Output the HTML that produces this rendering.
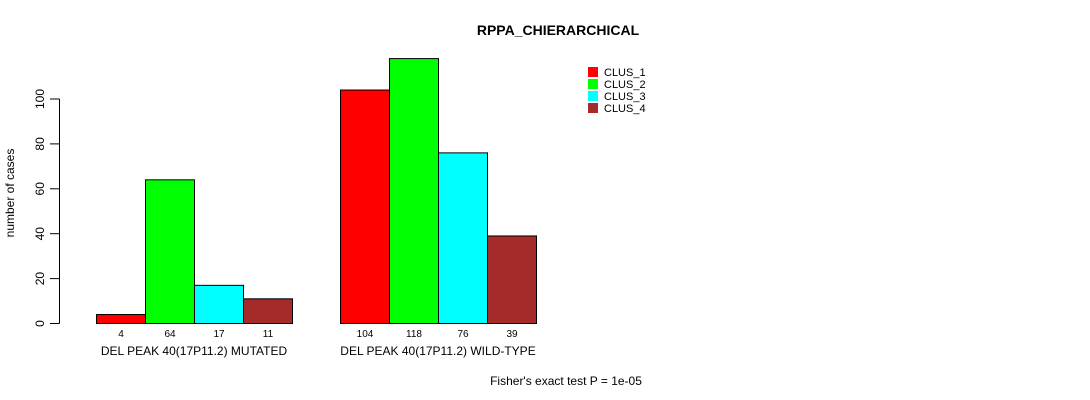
<!DOCTYPE html>
<html><head><style>
body{margin:0;background:#fff;}
svg{display:block;font-family:"Liberation Sans",sans-serif;}
</style></head><body>
<svg id="c" width="1090" height="400">
<text x="558" y="35" font-size="14" font-weight="bold" text-anchor="middle">RPPA_CHIERARCHICAL</text>
<text transform="translate(14,193) rotate(-90)" font-size="12" text-anchor="middle">number of cases</text>
<text x="566" y="385" font-size="12" text-anchor="middle">Fisher's exact test P = 1e-05</text>
<g id="yaxis"></g>
<g id="bars"></g>
<g id="legend"></g>
</svg>
<script>
const groups=["DEL PEAK 40(17P11.2) MUTATED","DEL PEAK 40(17P11.2) WILD-TYPE"];
const series=["CLUS_1","CLUS_2","CLUS_3","CLUS_4"];
const colors=["#ff0000","#00ff00","#00ffff","#a52a2a"];
const mutated=[4,64,17,11];
const wildtype=[104,118,76,39];
const yTicks=[0,20,40,60,80,100];
const values=[mutated,wildtype];
const NS="http://www.w3.org/2000/svg";
function y(v){return 323.5-v*2.245;}
const groupX=[96,340], bw=49;
function mk(t,a,p){const e=document.createElementNS(NS,t);for(const k in a)e.setAttribute(k,a[k]);p.appendChild(e);return e;}
const ya=document.getElementById('yaxis');
const ax=mk('line',{x1:59.5,x2:59.5,y1:y(0),y2:y(100),stroke:'#000'},ya);


yTicks.forEach(t=>{
 const l=mk('line',{x1:50,x2:59.5,y1:y(t),y2:y(t),stroke:'#000'},ya);
 
 
 const tx=mk('text',{transform:`translate(44,${y(t)}) rotate(-90)`,'font-size':12,'text-anchor':'middle'},ya);
 tx.textContent=t;
 
 
});
const bg=document.getElementById('bars');
values.forEach((vals,g)=>{
 vals.forEach((v,i)=>{
  const x=groupX[g]+i*bw;
  const r=mk('rect',{x:x+0.5,y:y(v),width:bw,height:y(0)-y(v),fill:colors[i],stroke:'#000'},bg);
  
  
  const t=mk('text',{x:x+bw/2+0.5,y:337,'font-size':10,'text-anchor':'middle'},bg);
  t.textContent=v;
  
  
 });
 const gl=mk('text',{x:groupX[g]+bw*2,y:355,'font-size':12,'text-anchor':'middle'},bg);
 gl.textContent=groups[g];
 
 
});
const lg=document.getElementById('legend');
series.forEach((s,i)=>{
 const r=mk('rect',{x:588,y:67+i*12,width:10,height:10,fill:colors[i]},lg);
 
 
 const t=mk('text',{x:604,y:76+i*12,'font-size':11},lg);
 t.textContent=s;
 
 
});
</script>
</body></html>
